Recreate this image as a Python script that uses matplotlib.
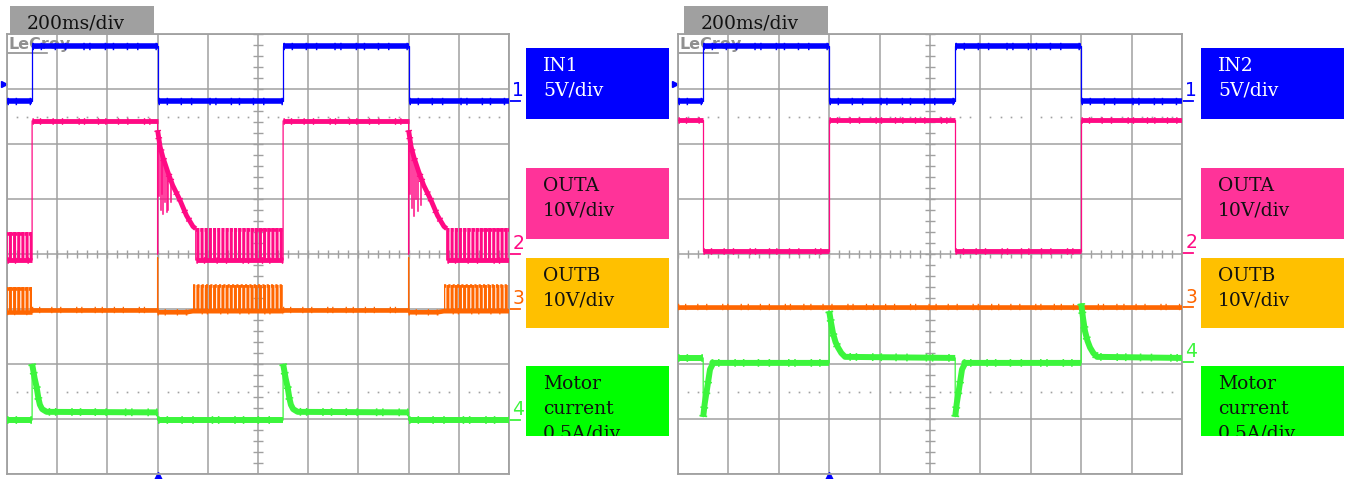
import numpy as np
import matplotlib
matplotlib.use("Agg")
import matplotlib.pyplot as plt
from matplotlib.patches import Rectangle

W, H = 1348, 479

# ------------------------------------------------------------
# Data (time in ms, 200 ms/div, 10 div; values in V or A)
# ------------------------------------------------------------
CH_SCALE = [5.0, 10.0, 10.0, 0.5]          # units per division
L_GND = [2.78, 0.0, -1.0, -3.02]           # ground marker, divisions
R_GND = [2.78, 0.02, -0.97, -1.96]
TRIG_LEVEL = 1.6                           # V on channel 1
TRIG_TIME = 600                            # ms

# left capture: IN1 toggled
L_IN_T = [0, 100, 100, 600, 600, 1100, 1100, 1600, 1600, 2000]
L_IN_V = [0, 0, 5, 5, 0, 0, 5, 5, 0, 0]

L_OUTA_T = [0, 100, 100, 600, 600, 600, 610, 621, 640, 660, 689, 715, 741, 752, 752, 1100,
            1100, 1600, 1600, 1600, 1610, 1621, 1640, 1660, 1689, 1715, 1741, 1752, 1752, 2000]
L_OUTA_V = [-1.1, -1.1, 24.2, 24.2, 0, 22.5, 19.5, 17.6, 15.0, 12.5, 9.8, 7.0, 5.0, 4.6, -1.1, -1.1,
            24.2, 24.2, 0, 22.5, 19.5, 17.6, 15.0, 12.5, 9.8, 7.0, 5.0, 4.6, -1.1, -1.1]
L_OUTA_RIPPLE = [(0, 100, -1.1, 4.0), (752, 1100, -1.1, 4.7), (1752, 2000, -1.1, 4.7)]
L_OUTA_DIPS = [(606, 21.0, 10.5), (612, 19.0, 8.0), (617, 18.2, 11.0), (620, 17.8, 7.2),
               (628, 16.8, 9.5), (636, 15.5, 7.6), (640, 15.0, 8.0), (652, 13.5, 9.5),
               (1606, 21.0, 11.0), (1612, 19.0, 8.3), (1620, 17.8, 7.0), (1628, 16.8, 10.0),
               (1636, 15.5, 7.8), (1648, 14.0, 9.0)]

L_OUTB_T = [0, 100, 100, 600, 600, 600, 715, 740, 1100, 1100, 1600, 1600, 1600, 1715, 1740, 2000]
L_OUTB_V = [-0.6, -0.6, -0.1, -0.1, 9.3, -0.6, -0.6, -0.4, -0.4, -0.1, -0.1, 9.3, -0.6, -0.6, -0.4, -0.4]
L_OUTB_RIPPLE = [(0, 100, -0.6, 4.0), (740, 1100, -0.4, 4.4), (1740, 2000, -0.4, 4.4)]

L_I_T = [0, 100, 100, 104, 110, 118, 125, 131, 140, 158, 600, 600,
         1100, 1100, 1104, 1110, 1118, 1125, 1131, 1140, 1158, 1600, 1600, 2000]
L_I_V = [0, 0, 0.51, 0.46, 0.38, 0.30, 0.20, 0.14, 0.10, 0.075, 0.07, 0,
         0, 0.51, 0.46, 0.38, 0.30, 0.20, 0.14, 0.10, 0.075, 0.07, 0, 0]

# right capture: IN2 toggled
R_IN_T = [0, 100, 100, 600, 600, 1100, 1100, 1600, 1600, 2000]
R_IN_V = [0, 0, 5, 5, 0, 0, 5, 5, 0, 0]

R_OUTA_T = [0, 100, 100, 600, 600, 1100, 1100, 1600, 1600, 2000]
R_OUTA_V = [24.2, 24.2, 0.3, 0.3, 24.2, 24.2, 0.3, 0.3, 24.2, 24.2]

R_OUTB_T = [0, 2000]
R_OUTB_V = [0.0, 0.0]

R_I_T = [0, 100, 100, 106, 115, 127, 140, 600, 600, 607, 615, 625, 635, 648, 663,
         1100, 1100, 1106, 1115, 1127, 1140, 1600, 1600, 1607, 1615, 1625, 1635, 1648, 1663, 2000]
R_I_V = [0.035, 0.035, -0.5, -0.38, -0.25, -0.07, -0.01, -0.01, 0.46, 0.36, 0.26, 0.18, 0.13, 0.08, 0.045,
         0.035, -0.5, -0.38, -0.25, -0.07, -0.01, -0.01, 0.53, 0.40, 0.28, 0.19, 0.13, 0.08, 0.045, 0.035]

L_LABELS = [["IN1", "5V/div"], ["OUTA", "10V/div"], ["OUTB", "10V/div"], ["Motor", "current", "0.5A/div"]]
R_LABELS = [["IN2", "5V/div"], ["OUTA", "10V/div"], ["OUTB", "10V/div"], ["Motor", "current", "0.5A/div"]]
TIMEBASE = "200ms/div"

TRACE_COLORS = ["#0000FF", "#FF0A84", "#FF6600", "#3CF53C"]
TRACE_LW = [4.0, 3.5, 3.3, 4.3]
BOX_COLORS = ["#0000FF", "#FF3399", "#FFC000", "#00FF00"]
BOX_TEXT = ["white", "#111111", "#111111", "#111111"]
GRID = "#A0A0A0"

plt.rcParams["hatch.linewidth"] = 2.2

# short irregular dashes laid over flat runs -> the scope's spiky noise
NOISE_DASH = (0, (0.2, 0.9, 0.2, 1.7, 0.2, 1.2, 0.2, 2.3, 0.2, 0.6, 0.2, 1.9))


def fpx(x, y):
    return x / W, 1 - y / H


def to_div(v, gnd, scale):
    return gnd + np.asarray(v, dtype=float) / scale


def draw_trace(ax, t, v, gnd, scale, color, lw):
    t = np.asarray(t, dtype=float)
    y = to_div(v, gnd, scale)
    ax.plot(t, y, color=color, lw=0.9, zorder=3)
    runs = []
    start = 0
    for i in range(len(t) - 1):
        if t[i + 1] == t[i]:
            if i > start:
                runs.append((start, i + 1))
            start = i + 1
    if len(t) - 1 > start:
        runs.append((start, len(t)))
    for a, b in runs:
        ax.plot(t[a:b], y[a:b], color=color, lw=lw,
                solid_capstyle="butt", solid_joinstyle="round", zorder=4)
        ax.plot(t[a:b], y[a:b], color=color, lw=lw + 1.3, ls=NOISE_DASH,
                dash_capstyle="butt", zorder=4)


def draw_ripple(ax, bands, gnd, scale, color):
    for t0, t1, lo, hi in bands:
        ylo, yhi = to_div([lo, hi], gnd, scale)
        ax.fill_between([t0, t1], [ylo, ylo], [yhi, yhi], facecolor="none",
                        edgecolor=color, hatch="||||", lw=0, zorder=3.5)
        ax.plot([t0, t1], [yhi - 0.03, yhi - 0.03], color=color, lw=2.6,
                linestyle=(0, (0.6, 0.6)), zorder=3.6)


def scope(ax, traces, gnd):
    ax.set_xlim(0, 2000)
    ax.set_ylim(-4, 4)
    ax.set_xticks(np.arange(0, 2001, 200))
    ax.set_yticks(np.arange(-4, 5, 1))
    ax.tick_params(length=0, labelbottom=False, labelleft=False)
    ax.grid(True, color=GRID, lw=1.1, zorder=0)
    ax.set_axisbelow(True)
    for s in ax.spines.values():
        s.set_color(GRID)
        s.set_linewidth(1.3)

    # centre-line graduations and dotted rows
    ax.vlines(np.arange(0, 2001, 40), -0.08, 0.08, color=GRID, lw=1.0, zorder=1)
    ax.hlines(np.arange(-4, 4.01, 0.2), 980, 1020, color=GRID, lw=1.0, zorder=1)
    for yd in (2.5, -2.5):
        xs = [x for x in np.arange(40, 2000, 40) if x % 200]
        ax.plot(xs, [yd] * len(xs), ls="none", marker="s", ms=1.2,
                color=GRID, mew=0, zorder=1)

    ax.text(4, 3.73, "LeCroy", color="#909090", fontsize=11.5, fontweight="bold",
            family="DejaVu Sans Condensed", zorder=1)
    ax.plot([4, 160], [3.66, 3.66], color="#909090", lw=1.2, zorder=1)

    for k, (t, v, ripple, dips) in enumerate(traces):
        color = TRACE_COLORS[k]
        if ripple:
            draw_ripple(ax, ripple, gnd[k], CH_SCALE[k], color)
        for td, vt, vb in dips:
            ax.plot([td, td], to_div([vt, vb], gnd[k], CH_SCALE[k]), color=color, lw=1.1, zorder=3)
        draw_trace(ax, t, v, gnd[k], CH_SCALE[k], color, TRACE_LW[k])

        # channel marker on the right edge
        ytr = ax.get_yaxis_transform()
        ax.plot([1.002, 1.021], [gnd[k], gnd[k]], color=color, lw=1.3,
                transform=ytr, clip_on=False)
        ax.annotate(str(k + 1), xy=(1.0, gnd[k]), xycoords=ytr, xytext=(2.3, 3.4),
                    textcoords="offset points", color=color, fontsize=13.5,
                    family=["DejaVu Sans Condensed", "DejaVu Sans"], va="baseline",
                    annotation_clip=False)

    # trigger markers
    ax.plot([-0.006], [to_div(TRIG_LEVEL, gnd[0], CH_SCALE[0])], marker=">", ms=4,
            color=TRACE_COLORS[0], transform=ax.get_yaxis_transform(), clip_on=False)
    ax.plot([TRIG_TIME], [-4.07], marker="^", ms=8, color=TRACE_COLORS[0], clip_on=False)


fig = plt.figure(figsize=(W / 100, H / 100), dpi=100)
fig.patch.set_facecolor("white")

ax_l = fig.add_axes([7 / W, 1 - 474 / H, 502 / W, 440 / H])
ax_r = fig.add_axes([678 / W, 1 - 474 / H, 504 / W, 440 / H])

scope(ax_l, [(L_IN_T, L_IN_V, None, []),
             (L_OUTA_T, L_OUTA_V, L_OUTA_RIPPLE, L_OUTA_DIPS),
             (L_OUTB_T, L_OUTB_V, L_OUTB_RIPPLE, []),
             (L_I_T, L_I_V, None, [])], L_GND)
scope(ax_r, [(R_IN_T, R_IN_V, None, []),
             (R_OUTA_T, R_OUTA_V, None, []),
             (R_OUTB_T, R_OUTB_V, None, []),
             (R_I_T, R_I_V, None, [])], R_GND)

# timebase tags
for bx, tx in ((10, 27), (684, 701)):
    x0, y0 = fpx(bx, 34)
    fig.add_artist(Rectangle((x0, y0), 144 / W, 28 / H, transform=fig.transFigure,
                             facecolor="#A0A0A0", edgecolor="none", zorder=5))
    fig.text(*fpx(tx, 28), TIMEBASE, fontsize=13.5, family="DejaVu Serif",
             color="#111111", va="baseline", zorder=6)

# channel legend boxes
BOX_ROWS = [(48, 119), (168, 239), (258, 328), (366, 436)]
for bx, labels in ((526, L_LABELS), (1201, R_LABELS)):
    for k, (top, bot) in enumerate(BOX_ROWS):
        x0, y0 = fpx(bx, bot)
        rect = Rectangle((x0, y0), 143 / W, (bot - top) / H, transform=fig.transFigure,
                         facecolor=BOX_COLORS[k], edgecolor="none", zorder=5)
        fig.add_artist(rect)
        for j, line in enumerate(labels[k]):
            txt = fig.text(*fpx(bx + 17, top + 23 + 24.5 * j), line, fontsize=13.5,
                           family="DejaVu Serif", color=BOX_TEXT[k], va="baseline", zorder=6)
            txt.set_clip_path(rect)

fig.savefig("out.png", dpi=100)
